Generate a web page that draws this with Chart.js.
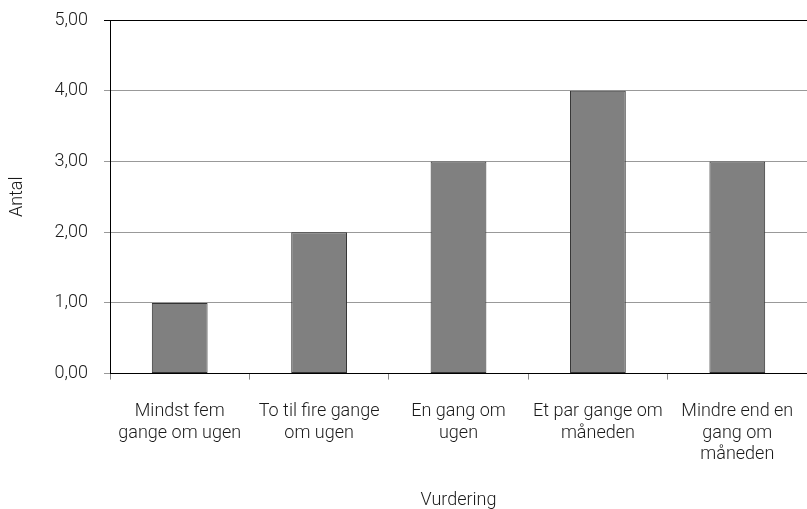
<!DOCTYPE html>
<html>
<head>
<meta charset="utf-8">
<script src="https://cdn.jsdelivr.net/npm/chart.js@4"></script>
<style>
  html, body { margin: 0; padding: 0; background: #fff; }
  #wrap { width: 807px; height: 509px; }
</style>
</head>
<body>
<div id="wrap"><canvas id="chart"></canvas></div>
<script>
const categories = [
  ['Mindst fem', 'gange om ugen'],
  ['To til fire gange', 'om ugen'],
  ['En gang om', 'ugen'],
  ['Et par gange om', 'måneden'],
  ['Mindre end en', 'gang om', 'måneden']
];
const antal = [1, 2, 3, 4, 3];
const yMax = 5;
const yStep = 1;

const font = { family: 'Roboto, "Liberation Sans", sans-serif', size: 18, weight: 300, lineHeight: 1.2 };
const textColor = '#1a1a1a';

const ctx = document.getElementById('chart').getContext('2d');
new Chart(ctx, {
  type: 'bar',
  data: {
    labels: categories,
    datasets: [{
      label: 'Antal',
      data: antal,
      backgroundColor: '#808080',
      borderColor: '#333',
      borderWidth: 1,
      borderSkipped: false,
      barPercentage: 0.4,
      categoryPercentage: 1.0
    }]
  },
  options: {
    responsive: true,
    maintainAspectRatio: false,
    animation: false,
    layout: { padding: { top: 20, right: 0, left: 7, bottom: 0 } },
    plugins: {
      legend: { display: false },
      tooltip: { enabled: false }
    },
    scales: {
      x: {
        // keep the plot running to the right edge like the original
        afterFit: (s) => { s.paddingLeft = 0; s.paddingRight = 0; },
        grid: {
          offset: true,
          drawOnChartArea: false,
          drawTicks: true,
          tickLength: 6,
          color: '#888'
        },
        border: { color: '#000', width: 1 },
        ticks: {
          color: textColor,
          font: font,
          maxRotation: 0,
          autoSkip: false,
          padding: 21
        },
        title: {
          display: true,
          text: 'Vurdering',
          color: textColor,
          font: { ...font, lineHeight: 1.0 },
          padding: { top: 4.6, bottom: 0 }
        }
      },
      y: {
        min: 0,
        max: yMax,
        afterFit: (s) => { s.paddingTop = 0; s.paddingBottom = 0; },
        grid: {
          color: (c) => c.tick && c.tick.value === yMax ? '#000' : '#999',
          tickLength: 6,
          drawTicks: true
        },
        border: { color: '#000', width: 1 },
        ticks: {
          stepSize: yStep,
          color: textColor,
          font: font,
          padding: 16,
          callback: (v) => v.toFixed(2).replace('.', ',')
        },
        title: {
          display: true,
          text: 'Antal',
          color: textColor,
          font: font,
          padding: { top: 0, bottom: 10 }
        }
      }
    }
  }
});
</script>
</body>
</html>
